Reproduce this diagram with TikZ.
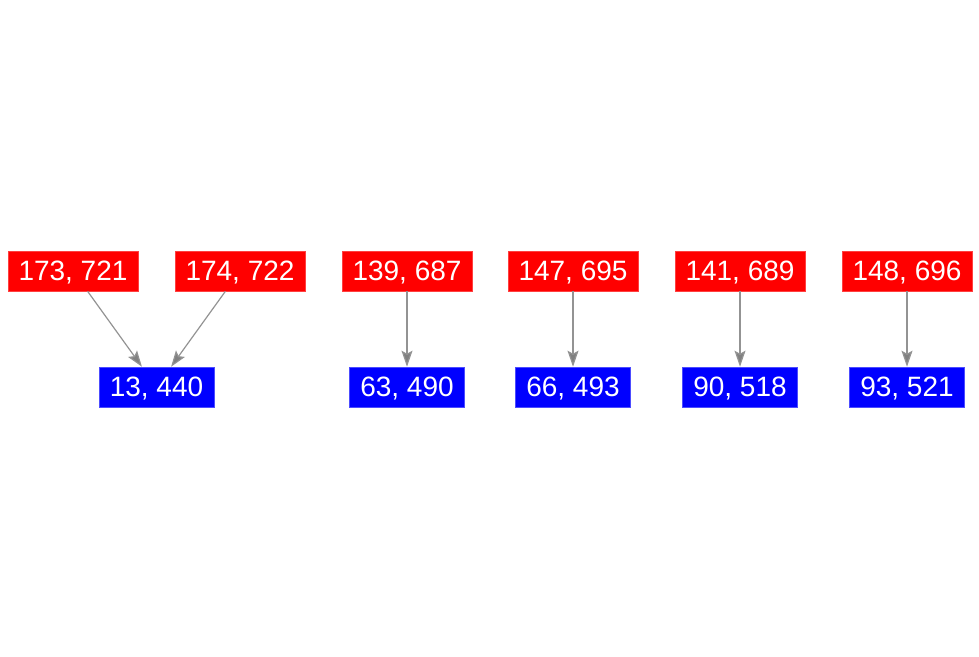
\documentclass[tikz,border=0pt]{standalone}
\usepackage{fontspec}
\setmainfont{Liberation Sans}
\usetikzlibrary{arrows.meta}

\begin{document}
\begin{tikzpicture}[x=1pt, y=1pt,
    src/.style={shape=rectangle, fill=red, draw=red!75!white, line width=0.6pt,
      minimum width=130pt, minimum height=40pt, inner sep=0pt, text=white,
      text depth=0pt, font=\fontsize{28}{28}\selectfont},
    dst/.style={src, fill=blue, draw=blue!70!white, minimum width=115pt},
    link/.style={-{Stealth[length=16pt, width=11pt, inset=3pt, fill=gray]}, draw=gray!85, line width=1.2pt}]
          \useasboundingbox (0,0) rectangle (979,-656);

          % nodes
          \node[src] at ( 73,-271) (r1) {173, 721};
          \node[src] at (240,-271) (r2) {174, 722};
          \node[src] at (407,-271) (r3) {139, 687};
          \node[src] at (573,-271) (r4) {147, 695};
          \node[src] at (740,-271) (r5) {141, 689};
          \node[src] at (907,-271) (r6) {148, 696};

          \node[dst] at (156.5,-387) (b1) {13, 440};
          \node[dst] at (407,-387) (b2) {63, 490};
          \node[dst] at (573,-387) (b3) {66, 493};
          \node[dst] at (740,-387) (b4) {90, 518};
          \node[dst] at (907,-387) (b5) {93, 521};

          % arcs
          \draw[link]
          (r1) edge (b1)
          (r2) edge (b1)
          (r3) edge (b2)
          (r4) edge (b3)
          (r5) edge (b4)
          (r6) edge (b5)
          ;
        \end{tikzpicture}
\end{document}
